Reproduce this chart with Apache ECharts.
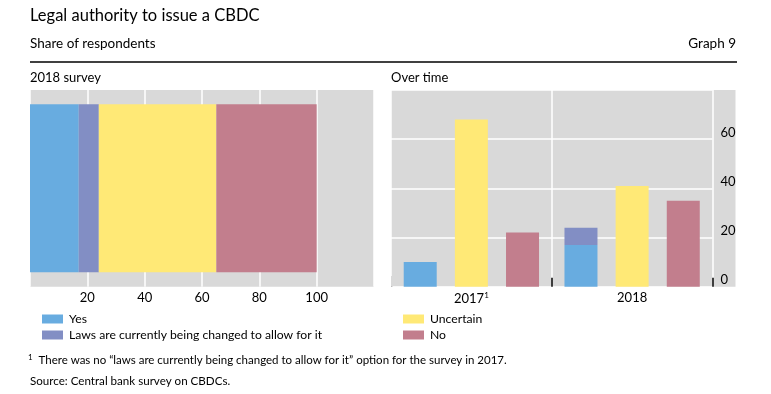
<!DOCTYPE html>
<html>
<head>
<meta charset="utf-8">
<script src="https://cdn.jsdelivr.net/npm/echarts@6/dist/echarts.min.js"></script>
<style>
html,body{margin:0;padding:0;background:#fff;}
#c{width:771px;height:394px;}
</style>
</head>
<body>
<div id="c"></div>
<script>
// ---- data ----
const surveyCategory = ['2018 survey'];
const surveyYes = [17];
const surveyLaws = [7];
const surveyUncertain = [41];
const surveyNo = [35];

const years = ['2017', '2018'];
const yesOverTime = [10, 17];
const lawsOverTime = ['-', 7];
const uncertainOverTime = [68, 41];
const noOverTime = [22, 35];

const leftTicks = [20, 40, 60, 80, 100];
const rightTicks = [0, 20, 40, 60];

const names = {
  yes: 'Yes',
  laws: 'Laws are currently being changed to allow for it',
  unc: 'Uncertain',
  no: 'No'
};
const colors = { yes: '#68ace0', laws: '#828ec4', unc: '#ffe976', no: '#c27e8d' };

const FONT = 'Lato';
const GRAY = '#d9d9d9';

const chart = echarts.init(document.getElementById('c'), null, { renderer: 'canvas' });

function titleItem(text, left, top, size, extra) {
  return Object.assign({
    text: text, left: left, top: top, padding: 0,
    textStyle: { fontFamily: FONT, fontSize: size, fontWeight: 'normal', color: '#000' }
  }, extra || {});
}

const legendText = { fontFamily: FONT, fontSize: 12.2, color: '#000', padding: [0, 0, 0, 1] };

const option = {
  animation: false,
  backgroundColor: '#fff',
  title: [
    titleItem('Legal authority to issue a CBDC', 30, 7, 16.5),
    titleItem('Share of respondents', 30, 37, 13.5),
    titleItem('Graph 9', 'auto', 37, 13.5, { right: 35, left: null }),
    titleItem('2018 survey', 30, 71, 13),
    titleItem('Over time', 391, 71, 13),
    {
      text: '{sup|1}  There was no “laws are currently being changed to allow for it” option for the survey in 2017.',
      left: 28, top: 353, padding: 0,
      textStyle: {
        fontFamily: FONT, fontSize: 11.5, fontWeight: 'normal', color: '#000',
        rich: { sup: { fontFamily: FONT, fontSize: 8, verticalAlign: 'top', padding: [0, 0, 6, 0] } }
      }
    },
    titleItem('Source: Central bank survey on CBDCs.', 30, 375, 11.6)
  ],
  graphic: [
    { type: 'line', shape: { x1: 30, y1: 62, x2: 737, y2: 62 }, style: { stroke: '#000', lineWidth: 1.3 }, z: 10 },
    { type: 'rect', shape: { x: 712, y: 90, width: 23.5, height: 196.7 }, style: { fill: GRAY }, z: -1 },
    { type: 'rect', shape: { x: 389, y: 276, width: 2, height: 12 }, style: { fill: '#fff' }, z: 100 },
    { type: 'rect', shape: { x: 391, y: 276, width: 2, height: 10.7 }, style: { fill: GRAY }, z: 100 }
  ],
  legend: [
    {
      data: [names.yes, names.laws], orient: 'vertical', left: 42, top: 313,
      itemWidth: 21, itemHeight: 9, itemGap: 4, icon: 'rect', padding: 0,
      textStyle: legendText
    },
    {
      data: [names.unc, names.no], orient: 'vertical', left: 403, top: 313,
      itemWidth: 21, itemHeight: 9, itemGap: 4, icon: 'rect', padding: 0,
      textStyle: legendText
    }
  ],
  grid: [
    { left: 30, top: 90, width: 344, height: 196.7, show: true, backgroundColor: GRAY, borderWidth: 0 },
    { left: 391, top: 90, width: 321.5, height: 196.7, show: true, backgroundColor: GRAY, borderWidth: 0 }
  ],
  xAxis: [
    {
      gridIndex: 0, type: 'value', min: 0, max: 120, interval: 20,
      axisLine: { show: false }, axisTick: { show: false },
      splitLine: { show: true, lineStyle: { color: '#fff', width: 1.5 } },
      axisLabel: {
        fontFamily: FONT, fontSize: 13, color: '#000', margin: 5,
        formatter: function (v) { return leftTicks.indexOf(v) >= 0 ? String(v) : ''; }
      }
    },
    {
      gridIndex: 1, type: 'category', data: years,
      axisLine: { show: false },
      axisTick: { show: true, inside: true, length: 9, lineStyle: { color: '#000', width: 1.5 } },
      splitLine: { show: true, lineStyle: { color: '#fff', width: 1.5 } },
      axisLabel: {
        fontFamily: FONT, fontSize: 13, color: '#000', margin: 5,
        formatter: function (v) { return v === '2017' ? v + '{sup|1}' : v; },
        rich: { sup: { fontFamily: FONT, fontSize: 8, verticalAlign: 'top', padding: [0, 0, 6, 0] } }
      }
    }
  ],
  yAxis: [
    {
      gridIndex: 0, type: 'category', data: surveyCategory, show: false
    },
    {
      gridIndex: 1, type: 'value', position: 'right', min: 0, max: 80, interval: 20,
      axisLine: { show: false }, axisTick: { show: false },
      splitLine: { show: true, lineStyle: { color: '#fff', width: 1.5 } },
      axisLabel: {
        fontFamily: FONT, fontSize: 13, color: '#000', margin: 8, verticalAlign: 'bottom',
        formatter: function (v) { return rightTicks.indexOf(v) >= 0 ? String(v) : ''; }
      }
    }
  ],
  series: [
    { name: names.yes, type: 'bar', xAxisIndex: 0, yAxisIndex: 0, stack: 's', barWidth: 168, data: surveyYes, itemStyle: { color: colors.yes } },
    { name: names.laws, type: 'bar', xAxisIndex: 0, yAxisIndex: 0, stack: 's', barWidth: 168, data: surveyLaws, itemStyle: { color: colors.laws } },
    { name: names.unc, type: 'bar', xAxisIndex: 0, yAxisIndex: 0, stack: 's', barWidth: 168, data: surveyUncertain, itemStyle: { color: colors.unc } },
    { name: names.no, type: 'bar', xAxisIndex: 0, yAxisIndex: 0, stack: 's', barWidth: 168, data: surveyNo, itemStyle: { color: colors.no } },

    { name: names.yes, type: 'bar', xAxisIndex: 1, yAxisIndex: 1, stack: 'a', barWidth: 33, barGap: '55%', data: yesOverTime, itemStyle: { color: colors.yes } },
    { name: names.laws, type: 'bar', xAxisIndex: 1, yAxisIndex: 1, stack: 'a', barWidth: 33, barGap: '55%', data: lawsOverTime, itemStyle: { color: colors.laws } },
    { name: names.unc, type: 'bar', xAxisIndex: 1, yAxisIndex: 1, barWidth: 33, barGap: '55%', data: uncertainOverTime, itemStyle: { color: colors.unc } },
    { name: names.no, type: 'bar', xAxisIndex: 1, yAxisIndex: 1, barWidth: 33, barGap: '55%', data: noOverTime, itemStyle: { color: colors.no } }
  ]
};
chart.setOption(option);
</script>
</body>
</html>
